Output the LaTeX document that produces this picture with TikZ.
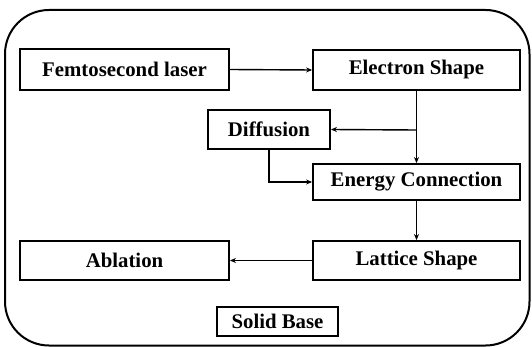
\documentclass[tikz,border=0pt]{standalone}
\usepackage{fontspec}
\setmainfont{Liberation Serif}
\usetikzlibrary{arrows.meta}
\begin{document}
\begin{tikzpicture}[x=1pt,y=-1pt,
  box/.style={draw=black, line width=1.8pt, inner sep=0pt, font=\fontsize{20.8}{24}\selectfont\bfseries},
  conn/.style={draw=black, line width=1.4pt, -{Stealth[length=6pt,width=5pt]}}]
\useasboundingbox (0,0) rectangle (532,347);
\draw[line width=2pt, rounded corners=44pt] (5,10) rectangle (529.5,345.5);
\node[box, minimum width=209pt, minimum height=41pt] (femto) at (124.5,69.5) {Femtosecond laser};
\node[box, minimum width=207pt, minimum height=40pt] (elec) at (416.5,70) {Electron Shape};
\node[box, minimum width=122pt, minimum height=39pt] (diff) at (269,129.5) {Diffusion};
\node[box, minimum width=207pt, minimum height=36pt] (energy) at (416.5,182) {Energy Connection};
\node[box, minimum width=207pt, minimum height=39pt] (lattice) at (416.5,260.5) {Lattice Shape};
\node[box, minimum width=209pt, minimum height=39pt] (abl) at (124.5,260.5) {Ablation};
\node[box, minimum width=121pt, minimum height=29pt] (solid) at (277.5,321.5) {Solid Base};
\coordinate (branch) at (416.5,130);
\draw[conn] (femto.east) -- (elec.west);
\draw[conn] (elec.south) -- (energy.north);
\draw[conn] (branch) -- (diff.east);
\draw[conn] (diff.south) |- (energy.west);
\draw[conn] (energy.south) -- (lattice.north);
\draw[conn] (lattice.west) -- (abl.east);
\end{tikzpicture}
\end{document}
